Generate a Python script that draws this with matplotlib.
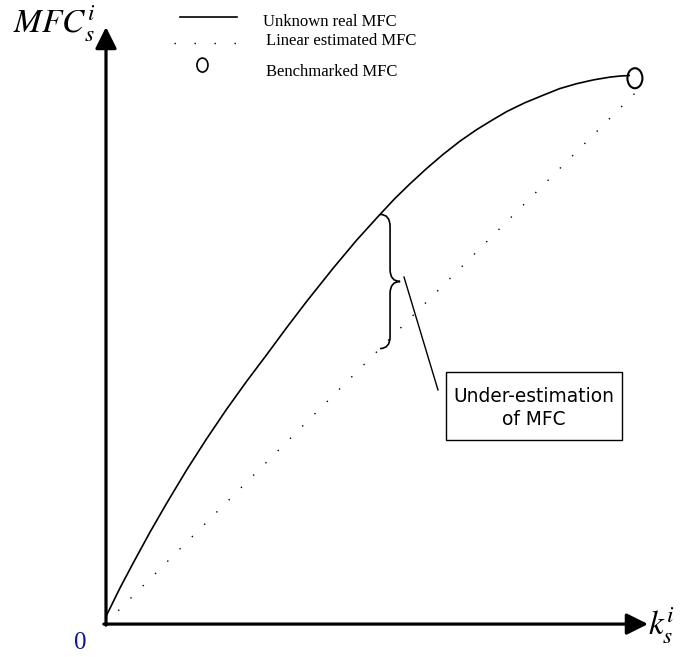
import numpy as np
import matplotlib
matplotlib.use("Agg")
import matplotlib.pyplot as plt
from matplotlib.patches import Ellipse, Rectangle, PathPatch
from matplotlib.path import Path

plt.rcParams['mathtext.fontset'] = 'stix'

# unknown real MFC curve (k in units of the benchmark k, MFC in units of benchmark MFC)
real_k = [0.0, 0.0264, 0.0515, 0.083, 0.1145, 0.1523, 0.19, 0.2277, 0.2655, 0.3032, 0.3409,
          0.3787, 0.4289, 0.473, 0.517, 0.545, 0.5736, 0.605, 0.6364, 0.668, 0.6994, 0.728,
          0.756, 0.79, 0.8251, 0.856, 0.8881, 0.92, 0.9509, 0.97, 0.9887]
real_mfc = [0.012, 0.064, 0.110, 0.166, 0.219, 0.280, 0.337, 0.391, 0.442, 0.4905, 0.540,
            0.588, 0.649, 0.700, 0.747, 0.776, 0.803, 0.831, 0.857, 0.881, 0.902, 0.919,
            0.935, 0.951, 0.965, 0.977, 0.986, 0.993, 0.998, 1.000, 1.001]

# linear estimate from origin to the benchmark
lin_k = [0.0, 1.015]
lin_mfc = [0.0, 0.985]

# benchmarked point
bench_k = 0.998
bench_mfc = 0.996

legend_labels = ["Unknown real MFC", "Linear estimated MFC", "Benchmarked MFC"]
note_lines = ["Under-estimation", "of MFC"]

fig = plt.figure(figsize=(6.84, 6.57), dpi=100)
ax = fig.add_axes([0, 0, 1, 1])
ax.set_xlim(-0.2, 1.0906)
ax.set_ylim(-0.0622, 1.139)
ax.axis('off')

# axes with arrows
arr = dict(arrowstyle='-|>,head_length=1.3,head_width=0.65', lw=2.3, color='black',
           mutation_scale=10, shrinkA=0, shrinkB=0)
ax.annotate('', xy=(0, 1.0896), xytext=(0, -0.004), arrowprops=arr)
ax.annotate('', xy=(1.0226, -0.002), xytext=(-0.004, -0.002), arrowprops=arr)

# curves
ax.plot(real_k, real_mfc, color='black', lw=1.2, solid_capstyle='butt', solid_joinstyle='round')
ax.plot(lin_k, lin_mfc, color='black', lw=1.0, ls=(0, (1, 11.5)))
ax.add_patch(Ellipse((bench_k, bench_mfc), 0.0283, 0.0366, fill=False, lw=1.5, ec='black'))

# brace between the curve and the linear estimate
bx = 0.517
top = np.interp(bx, real_k, real_mfc)
bot = np.interp(bx, lin_k, lin_mfc)
mid = (top + bot) / 2
dx = 0.019
dy = 0.022
verts = [(bx, top), (bx + dx, top), (bx + dx, top - dy),
         (bx + dx, mid + dy), (bx + dx, mid), (bx + 2 * dx, mid),
         (bx + dx, mid), (bx + dx, mid - dy),
         (bx + dx, bot + dy), (bx + dx, bot), (bx, bot)]
codes = [Path.MOVETO, Path.CURVE3, Path.CURVE3,
         Path.LINETO, Path.CURVE3, Path.CURVE3,
         Path.CURVE3, Path.CURVE3,
         Path.LINETO, Path.CURVE3, Path.CURVE3]
ax.add_patch(PathPatch(Path(verts, codes), fill=False, lw=1.2, ec='black'))

# leader line and note box
ax.plot([0.5623, 0.6264], [0.6325, 0.426], color='black', lw=1.0)
ax.add_patch(Rectangle((0.6415, 0.3346), 0.3321, 0.1243, fill=False, lw=1.0, ec='black'))
ax.text(0.8075, 0.4046, note_lines[0], ha='center', va='baseline', fontsize=13.4,
        family='DejaVu Sans')
ax.text(0.8075, 0.362, note_lines[1], ha='center', va='baseline', fontsize=13.4,
        family='DejaVu Sans')

# axis labels
ax.text(-0.175, 1.0786, r'$MFC^{i}_{s}$', fontsize=24, ha='left', va='baseline')
ax.text(1.0226, -0.022, r'$k^{i}_{s}$', fontsize=24, ha='left', va='baseline')
ax.text(-0.049, -0.0366, '0', fontsize=18, color='#14149a', family='Liberation Serif',
        ha='center', va='center')

# legend drawn by hand
ax.plot([0.140, 0.247], [1.108, 1.108], color='black', lw=1.2)
ax.plot([0.128, 0.245], [1.060, 1.060], color='black', lw=1.0, ls=(0, (1, 13.4)))
ax.add_patch(Ellipse((0.182, 1.020), 0.0208, 0.0256, fill=False, lw=1.2, ec='black'))
ax.text(0.296, 1.0914, legend_labels[0], fontsize=12, family='Liberation Serif', va='baseline')
ax.text(0.302, 1.0567, legend_labels[1], fontsize=12, family='Liberation Serif', va='baseline')
ax.text(0.302, 1.000, legend_labels[2], fontsize=12, family='Liberation Serif', va='baseline')

fig.savefig('out.png', dpi=100)
